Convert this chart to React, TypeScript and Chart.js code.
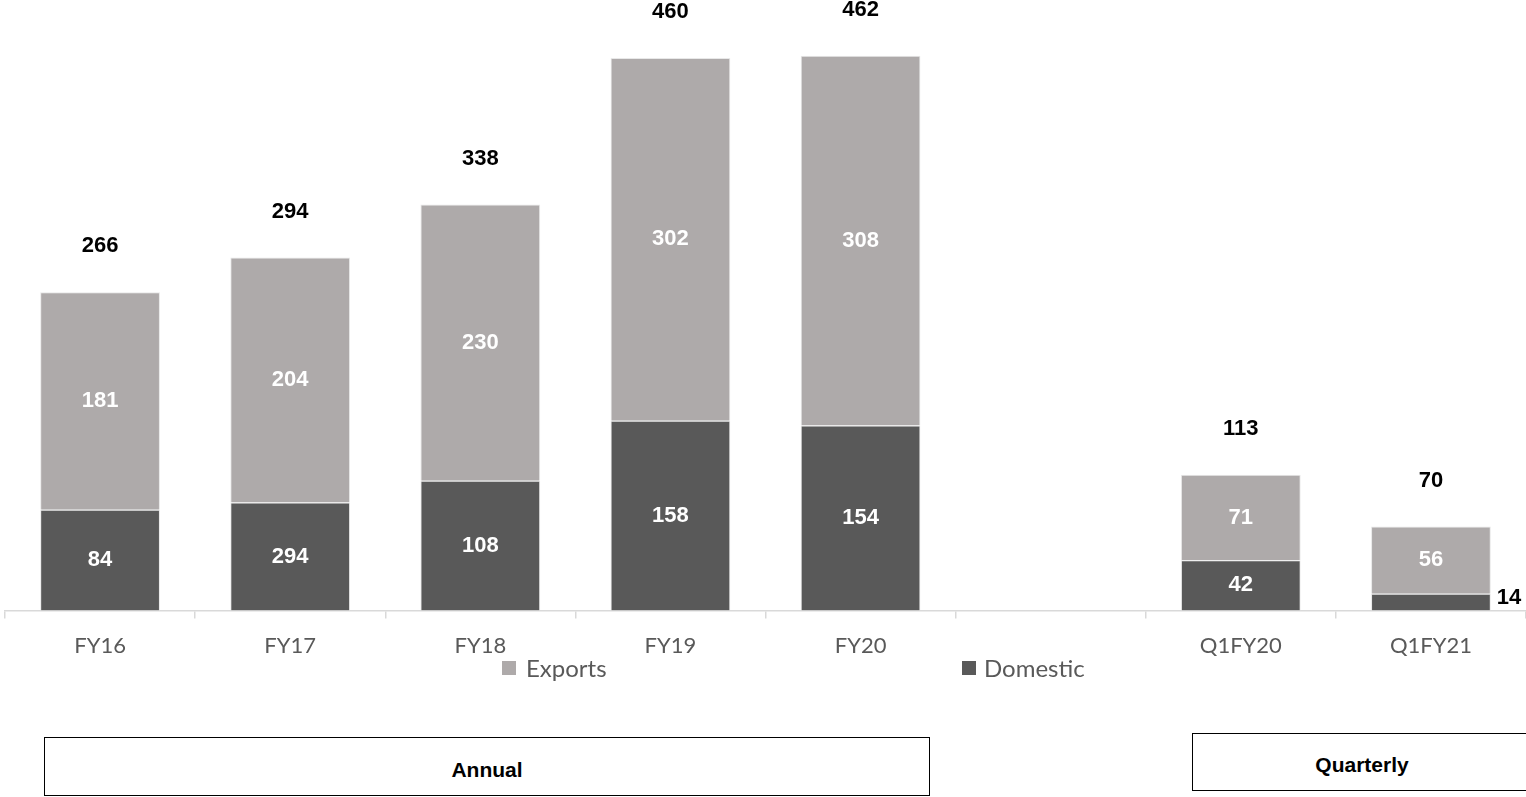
import React, { useEffect, useRef } from "react";
import { Chart, registerables } from "chart.js";

Chart.register(...registerables);

const categories = ["FY16", "FY17", "FY18", "FY19", "FY20", "", "Q1FY20", "Q1FY21"];
const exportsVals: (number | null)[] = [181, 204, 230, 302, 308, null, 71, 56];
const domesticVals: (number | null)[] = [84, 90, 108, 158, 154, null, 42, 14];
const domesticLabels: string[] = ["84", "294", "108", "158", "154", "", "42", "14"];
const exportsLabels: string[] = ["181", "204", "230", "302", "308", "", "71", "56"];
const totalLabels: string[] = ["266", "294", "338", "460", "462", "", "113", "70"];

const EXPORT_COLOR = "#AEAAAA";
const DOMESTIC_COLOR = "#595959";
const NUM_FONT = "bold 22px 'Liberation Sans', Arial, sans-serif";

const labelPlugin = {
  id: "valueLabels",
  afterDatasetsDraw(chart: any) {
    const ctx = chart.ctx;
    const metaDom = chart.getDatasetMeta(0);
    const metaExp = chart.getDatasetMeta(1);
    ctx.save();
    ctx.font = NUM_FONT;
    ctx.textAlign = "center";
    ctx.textBaseline = "middle";
    for (let i = 0; i < categories.length; i++) {
      const d = metaDom.data[i] as any;
      const e = metaExp.data[i] as any;
      if (domesticVals[i] == null) continue;
      const dh = Math.abs(d.base - d.y);
      if (dh > 30) {
        ctx.fillStyle = "#FFFFFF";
        ctx.textAlign = "center";
        ctx.fillText(domesticLabels[i], d.x, (d.y + d.base) / 2);
      } else {
        ctx.fillStyle = "#000000";
        ctx.textAlign = "left";
        ctx.fillText(domesticLabels[i], d.x + d.width / 2 + 6, (d.y + d.base) / 2 - 4);
      }
      ctx.fillStyle = "#FFFFFF";
      ctx.textAlign = "center";
      ctx.fillText(exportsLabels[i], e.x, (e.y + e.base) / 2);
      ctx.fillStyle = "#000000";
      ctx.fillText(totalLabels[i], e.x, e.y - 46);
    }
    ctx.restore();
  },
};

function BarChart() {
  const ref = useRef<HTMLCanvasElement>(null);
  useEffect(() => {
    if (!ref.current) return;
    const chart = new Chart(ref.current, {
      type: "bar",
      data: {
        labels: categories,
        datasets: [
          {
            label: "Domestic",
            data: domesticVals,
            backgroundColor: DOMESTIC_COLOR,
            borderColor: "#E8E8E8",
            borderWidth: 1,
            barPercentage: 0.63,
            categoryPercentage: 1,
          },
          {
            label: "Exports",
            data: exportsVals,
            backgroundColor: EXPORT_COLOR,
            borderColor: "#E8E8E8",
            borderWidth: 1,
            barPercentage: 0.63,
            categoryPercentage: 1,
          },
        ],
      },
      options: {
        animation: false,
        responsive: false,
        maintainAspectRatio: false,
        layout: { padding: { left: 5, right: 0, top: 10, bottom: 4 } },
        plugins: {
          legend: { display: false },
          tooltip: { enabled: false },
        },
        scales: {
          x: {
            stacked: true,
            offset: true,
            grid: {
              display: true,
              offset: true,
              drawOnChartArea: false,
              drawTicks: true,
              tickLength: 8,
              color: "#D9D9D9",
              lineWidth: 1.5,
            },
            border: { display: true, color: "#D9D9D9", width: 1.5 },
            ticks: {
              color: "#595959",
              font: { family: "Lato, 'Open Sans', sans-serif", size: 22 },
              padding: 14,
              maxRotation: 0,
            },
          },
          y: {
            stacked: true,
            display: false,
            min: 0,
            max: 500,
          },
        },
      },
      plugins: [labelPlugin],
    });
    return () => chart.destroy();
  }, []);
  return <canvas ref={ref} width={1526} height={677} style={{ position: "absolute", left: 0, top: 0, width: 1526, height: 677 }} />;
}

export default function App() {
  useEffect(() => {
    document.body.style.margin = "0";
  }, []);
  const legendText: React.CSSProperties = {
    position: "absolute",
    top: 654,
    fontFamily: "Lato, 'Open Sans', sans-serif",
    fontSize: 24,
    color: "#595959",
    lineHeight: "28px",
  };
  const box: React.CSSProperties = {
    position: "absolute",
    border: "1.5px solid #000",
    boxSizing: "border-box",
    display: "flex",
    alignItems: "center",
    justifyContent: "center",
    fontFamily: "'Liberation Sans', Arial, sans-serif",
    fontWeight: "bold",
    fontSize: 21,
    color: "#000",
    background: "#fff",
    paddingTop: 6,
  };
  return (
    <div style={{ position: "absolute", left: 0, top: 0, width: 1526, height: 797, background: "#fff", overflow: "hidden" }}>
      <BarChart />
      <div style={{ position: "absolute", left: 502, top: 661, width: 14, height: 14, background: EXPORT_COLOR }} />
      <div style={{ ...legendText, left: 526 }}>Exports</div>
      <div style={{ position: "absolute", left: 962, top: 661, width: 14, height: 14, background: DOMESTIC_COLOR }} />
      <div style={{ ...legendText, left: 984 }}>Domestic</div>
      <div style={{ ...box, left: 44, top: 737, width: 886, height: 59 }}>Annual</div>
      <div style={{ ...box, left: 1192, top: 733, width: 340, height: 58 }}>Quarterly</div>
    </div>
  );
}
